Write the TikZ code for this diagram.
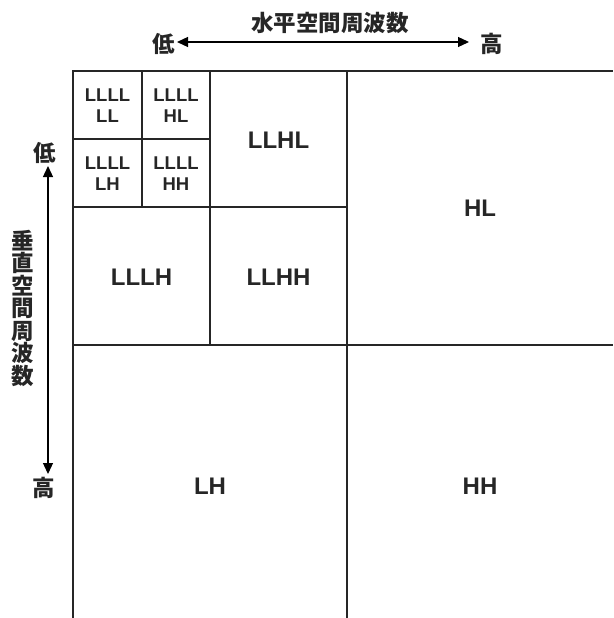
\documentclass[tikz,border=0pt]{standalone}
\usepackage{fontspec}
\setmainfont{Liberation Sans}
\newfontfamily\cjk{Noto Sans CJK JP}
\usetikzlibrary{arrows.meta}
\tikzset{
  gridline/.style={line width=1.6pt, draw=black!85},
  axis/.style={line width=1.3pt, {Triangle[length=11pt,width=10pt]}-{Triangle[length=11pt,width=10pt]}},
  small/.style={font=\bfseries\fontsize{18.5}{21}\selectfont, align=center, text=black!85},
  big/.style={font=\bfseries\fontsize{24}{28}\selectfont, text=black!85},
  jp/.style={font=\cjk\bfseries\fontsize{22.5}{22.5}\selectfont, text=black!85, inner sep=0pt},
}
\begin{document}
\begin{tikzpicture}[x=1pt,y=-1pt]
\useasboundingbox (0,0) rectangle (613,618);
% grid
\draw[gridline] (73,618) -- (73,71) -- (613,71);
\draw[gridline] (142,71) -- (142,207);
\draw[gridline] (210,71) -- (210,345);
\draw[gridline] (347,71) -- (347,618);
\draw[gridline] (73,139) -- (210,139);
\draw[gridline] (73,207) -- (347,207);
\draw[gridline] (73,345) -- (613,345);
% labels
\node[small] (llllll) at (107.5,106) {LLLL\\LL};
\node[small] (llllhl) at (176,106) {LLLL\\HL};
\node[small] (lllllh) at (107.5,174) {LLLL\\LH};
\node[small] (llllhh) at (176,174) {LLLL\\HH};
\node[big] (llhl) at (278.5,140) {LLHL};
\node[big] (lllh) at (141.5,277) {LLLH};
\node[big] (llhh) at (278.5,277) {LLHH};
\node[big] (hl) at (480,208) {HL};
\node[big] (lh) at (210,486) {LH};
\node[big] (hh) at (480,486) {HH};
% horizontal axis
\node[jp] (htitle) at (330,23) {水平空間周波数};
\node[jp] (hlow) at (164,44) {低};
\node[jp] (hhigh) at (492,44) {高};
\coordinate (hA) at (177,42);
\coordinate (hB) at (469,42);
\draw[axis] (hA) -- (hB);
% vertical axis
\node[jp] (vlow) at (45,153) {低};
\node[jp] (vhigh) at (44,488) {高};
\node[jp, align=center] (vtitle) at (23,308) {垂\\直\\空\\間\\周\\波\\数};
\coordinate (vA) at (48,166);
\coordinate (vB) at (48,474);
\draw[axis] (vA) -- (vB);
\end{tikzpicture}
\end{document}
